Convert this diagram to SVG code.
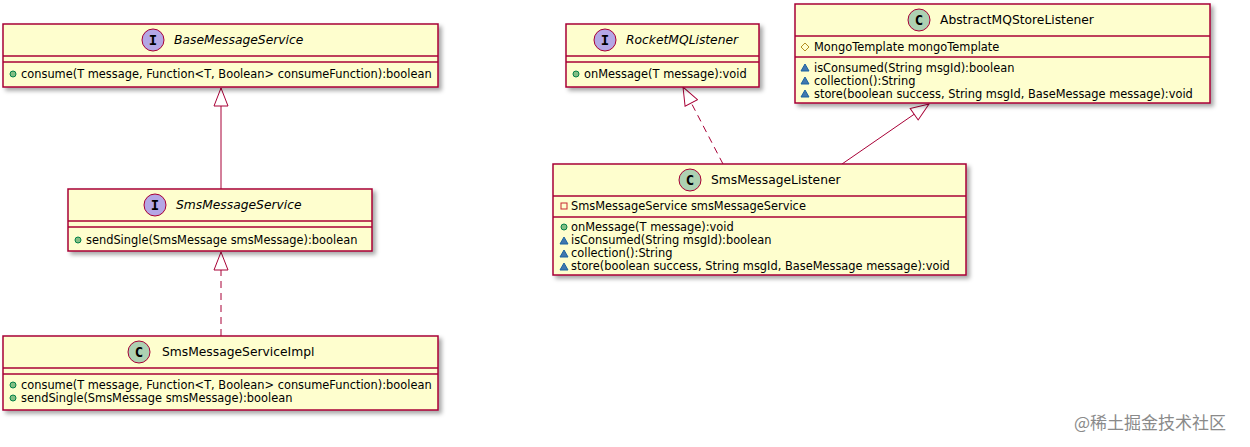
<svg xmlns="http://www.w3.org/2000/svg" width="1250" height="447" viewBox="0 0 1250 447">
<style>
.box{fill:#FEFECE;stroke:#A80036;stroke-width:1.5;filter:url(#sh)}
.sep{stroke:#A80036;stroke-width:1.5}
.title{font-family:"DejaVu Sans",Verdana,sans-serif;font-size:12.3px;fill:#000}
.it{font-style:italic}
.mem{font-family:"DejaVu Sans",Verdana,sans-serif;font-size:11.4px;fill:#000}
.ci{fill:#B4A7E5;stroke:#A80036;stroke-width:1}
.cc{fill:#ADD1B2;stroke:#A80036;stroke-width:1}
.let{font-family:"DejaVu Sans Mono","Liberation Mono",monospace;font-weight:bold;font-size:14px;fill:#000;text-anchor:middle}
.pub{fill:#84BE84;stroke:#038048;stroke-width:1}
.pkg{fill:#4177AF;stroke:#1963A0;stroke-width:1}
.pro{fill:none;stroke:#B38D22;stroke-width:1}
.pri{fill:none;stroke:#C82930;stroke-width:1}
.edge{fill:none;stroke:#A80036;stroke-width:1}
.dash{stroke-dasharray:7,5}
.wm{font-family:"Noto Sans CJK SC","DejaVu Sans",sans-serif;font-size:17px;fill:#8a8a8a}
</style>
<defs>
<filter id="sh" x="-5%" y="-10%" width="115%" height="140%">
<feDropShadow dx="3" dy="3" stdDeviation="2" flood-color="#000" flood-opacity="0.35"/>
</filter>
<marker id="ext" viewBox="0 0 20 16" refX="19" refY="8" markerWidth="20" markerHeight="16" markerUnits="userSpaceOnUse" orient="auto">
<path d="M1,1 L19,8 L1,15 Z" fill="#FFFFFF" stroke="#A80036" stroke-width="1"/>
</marker>
</defs>

<g id="connectors">
<path class="edge" d="M221,189 L221,88" marker-end="url(#ext)"/>
<path class="edge dash" d="M221,336 L221,252" marker-end="url(#ext)"/>
<path class="edge dash" d="M723,164 L683,87" marker-end="url(#ext)"/>
<path class="edge" d="M842,164 L929,104" marker-end="url(#ext)"/>
</g>

<g id="BaseMessageService">
<rect class="box" x="3" y="24" width="435" height="63"/>
<line class="sep" x1="3" y1="56" x2="438" y2="56"/>
<line class="sep" x1="3" y1="62" x2="438" y2="62"/>
<circle class="ci" cx="153" cy="40" r="11"/>
<text class="let" x="153" y="45">I</text>
<text class="title it" x="174" y="44">BaseMessageService</text>
<circle class="pub" cx="13" cy="74" r="3"/>
<text class="mem" x="21" y="78">consume(T message, Function&lt;T, Boolean&gt; consumeFunction):boolean</text>
</g>

<g id="SmsMessageService">
<rect class="box" x="68" y="189" width="304" height="62"/>
<line class="sep" x1="68" y1="221" x2="372" y2="221"/>
<line class="sep" x1="68" y1="227" x2="372" y2="227"/>
<circle class="ci" cx="155" cy="205" r="11"/>
<text class="let" x="155" y="210">I</text>
<text class="title it" x="176" y="209">SmsMessageService</text>
<circle class="pub" cx="78" cy="240" r="3"/>
<text class="mem" x="86" y="244">sendSingle(SmsMessage smsMessage):boolean</text>
</g>

<g id="SmsMessageServiceImpl">
<rect class="box" x="3" y="336" width="435" height="74"/>
<line class="sep" x1="3" y1="368" x2="438" y2="368"/>
<line class="sep" x1="3" y1="374" x2="438" y2="374"/>
<circle class="cc" cx="139" cy="352" r="11"/>
<text class="let" x="139" y="357">C</text>
<text class="title" x="162" y="356">SmsMessageServiceImpl</text>
<circle class="pub" cx="13" cy="385" r="3"/>
<text class="mem" x="21" y="389">consume(T message, Function&lt;T, Boolean&gt; consumeFunction):boolean</text>
<circle class="pub" cx="13" cy="398" r="3"/>
<text class="mem" x="21" y="402">sendSingle(SmsMessage smsMessage):boolean</text>
</g>

<g id="RocketMQListener">
<rect class="box" x="566" y="24" width="193" height="63"/>
<line class="sep" x1="566" y1="56" x2="759" y2="56"/>
<line class="sep" x1="566" y1="62" x2="759" y2="62"/>
<circle class="ci" cx="605" cy="40" r="11"/>
<text class="let" x="605" y="45">I</text>
<text class="title it" x="626" y="44">RocketMQListener</text>
<circle class="pub" cx="576" cy="74" r="3"/>
<text class="mem" x="584" y="78">onMessage(T message):void</text>
</g>

<g id="AbstractMQStoreListener">
<rect class="box" x="795" y="4" width="415" height="99"/>
<line class="sep" x1="795" y1="36" x2="1210" y2="36"/>
<line class="sep" x1="795" y1="57" x2="1210" y2="57"/>
<circle class="cc" cx="919" cy="20" r="11"/>
<text class="let" x="919" y="25">C</text>
<text class="title" x="940" y="24">AbstractMQStoreListener</text>
<path class="pro" d="M805,43 L809,47 L805,51 L801,47 Z"/>
<text class="mem" x="814" y="51">MongoTemplate mongoTemplate</text>
<path class="pkg" d="M801,71 L805,64 L809,71 Z"/>
<text class="mem" x="814" y="72">isConsumed(String msgId):boolean</text>
<path class="pkg" d="M801,84 L805,77 L809,84 Z"/>
<text class="mem" x="814" y="85">collection():String</text>
<path class="pkg" d="M801,97 L805,90 L809,97 Z"/>
<text class="mem" x="814" y="98">store(boolean success, String msgId, BaseMessage message):void</text>
</g>

<g id="SmsMessageListener">
<rect class="box" x="553" y="164" width="413" height="111"/>
<line class="sep" x1="553" y1="196" x2="966" y2="196"/>
<line class="sep" x1="553" y1="217" x2="966" y2="217"/>
<circle class="cc" cx="690" cy="180" r="11"/>
<text class="let" x="690" y="185">C</text>
<text class="title" x="711" y="184">SmsMessageListener</text>
<rect class="pri" x="561" y="203" width="6" height="6"/>
<text class="mem" x="571" y="210">SmsMessageService smsMessageService</text>
<circle class="pub" cx="564" cy="227" r="3"/>
<text class="mem" x="571" y="231">onMessage(T message):void</text>
<path class="pkg" d="M560,244 L564,237 L568,244 Z"/>
<text class="mem" x="571" y="244">isConsumed(String msgId):boolean</text>
<path class="pkg" d="M560,257 L564,250 L568,257 Z"/>
<text class="mem" x="571" y="257">collection():String</text>
<path class="pkg" d="M560,270 L564,263 L568,270 Z"/>
<text class="mem" x="571" y="270">store(boolean success, String msgId, BaseMessage message):void</text>
</g>

<text class="wm" x="1074" y="429">@稀土掘金技术社区</text>
</svg>
